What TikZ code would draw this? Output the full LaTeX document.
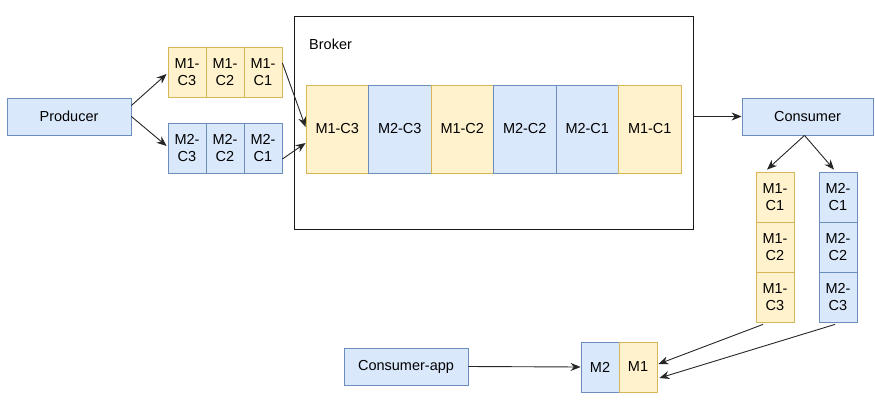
\documentclass[tikz,border=0pt]{standalone}
\usepackage{fontspec}
\setmainfont{Liberation Sans}
\usetikzlibrary{arrows.meta,calc}
\definecolor{yfill}{HTML}{FFF2CC}
\definecolor{ydraw}{HTML}{D6B656}
\definecolor{bfill}{HTML}{DAE8FC}
\definecolor{bdraw}{HTML}{6C8EBF}
\tikzset{
  txt/.style={font=\fontsize{14.5}{17}\selectfont},
  ycell/.style={txt,draw=ydraw,fill=yfill,line width=0.8pt,minimum width=38pt,minimum height=50pt,inner sep=0pt,align=center},
  bcell/.style={txt,draw=bdraw,fill=bfill,line width=0.8pt,minimum width=38pt,minimum height=50pt,inner sep=0pt,align=center},
  yq/.style={ycell,minimum width=62.5pt,minimum height=88pt},
  bq/.style={bcell,minimum width=62.5pt,minimum height=88pt},
  bbox/.style={txt,draw=bdraw,fill=bfill,line width=0.8pt,minimum width=124pt,minimum height=37pt,inner sep=0pt},
  arr/.style={-{Stealth[length=10pt,width=8pt]},line width=0.9pt,black!85},
}
\begin{document}
\begin{tikzpicture}[x=1pt,y=-1pt]
\useasboundingbox (0,0) rectangle (875,402);
% broker
\node[draw=black!90,line width=1pt,minimum width=399pt,minimum height=213pt,inner sep=0pt] (broker) at (493.5,122.5) {};
\node[txt,anchor=west,inner sep=0pt] (brokerlbl) at (309,44) {Broker};
% producer
\node[bbox] (prod) at (69,116.5) {Producer};
% producer partitions
\node[ycell] (pa3) at (187,72) {M1-\\C3};
\node[ycell] (pa2) at (225,72) {M1-\\C2};
\node[ycell] (pa1) at (263,72) {M1-\\C1};
\node[bcell] (pb3) at (187,148) {M2-\\C3};
\node[bcell] (pb2) at (225,148) {M2-\\C2};
\node[bcell] (pb1) at (263,148) {M2-\\C1};
% queue
\node[yq] (q1) at (337.25,129) {M1-C3};
\node[bq] (q2) at (399.75,129) {M2-C3};
\node[yq] (q3) at (462.25,129) {M1-C2};
\node[bq] (q4) at (524.75,129) {M2-C2};
\node[bq] (q5) at (587.25,129) {M2-C1};
\node[yq] (q6) at (649.75,129) {M1-C1};
% consumer
\node[bbox,minimum width=131pt] (cons) at (807.5,116.5) {Consumer};
\node[ycell] (ca1) at (775,197) {M1-\\C1};
\node[ycell] (ca2) at (775,247) {M1-\\C2};
\node[ycell] (ca3) at (775,297) {M1-\\C3};
\node[bcell] (cb1) at (838,197) {M2-\\C1};
\node[bcell] (cb2) at (838,247) {M2-\\C2};
\node[bcell] (cb3) at (838,297) {M2-\\C3};
% consumer app
\node[bbox] (capp) at (406,366.5) {Consumer-app};
\node[bcell] (m2) at (600,367) {M2};
\node[ycell] (m1) at (638,367) {M1};
% connectors
\draw[arr] ($(prod.east)+(0,-11)$) -- ($(pa3.west)+(-1,2)$);
\draw[arr] ($(prod.east)+(0,0)$) -- ($(pb3.west)+(-1,-2)$);
\draw[arr] ($(pa1.east)+(0,-9)$) -- ($(q1.west)+(0,-2)$);
\draw[arr] ($(pb1.east)+(0,11)$) -- ($(q1.west)+(0,14)$);
\draw[arr] (broker.east |- cons.west) -- (cons.west);
\draw[arr] ($(cons.south)+(-3,0)$) -- ($(ca1.north)+(-8,-2)$);
\draw[arr] ($(cons.south)+(-3,0)$) -- ($(cb1.north)+(-4,-2)$);
\draw[arr] (capp.east) -- (m2.west);
\draw[arr] ($(ca3.south)+(-12,2)$) -- ($(m1.east)+(1,-3)$);
\draw[arr] ($(cb3.south)+(-3,2)$) -- ($(m1.east)+(2,11)$);
\end{tikzpicture}
\end{document}
